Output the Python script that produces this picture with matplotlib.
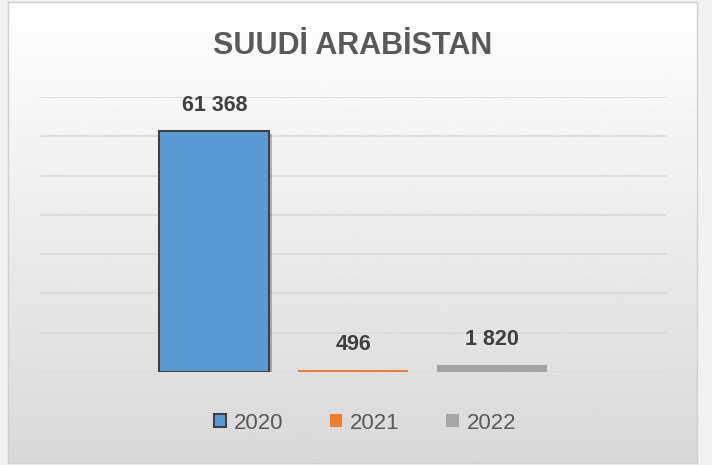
import numpy as np
import matplotlib
matplotlib.use('Agg')
import matplotlib.pyplot as plt
import matplotlib.patheffects as pe
from matplotlib.patches import Patch

title = 'SUUDİ ARABİSTAN'
years = ['2020', '2021', '2022']
values = [61368, 496, 1820]
colors = ['#5B9BD5', '#ED7D31', '#A5A5A5']

plt.rcParams['font.family'] = ['Liberation Sans', 'DejaVu Sans']

fig = plt.figure(figsize=(7.12, 4.65), dpi=100)
fig.patch.set_facecolor('#f2f2f2')

# panel with vertical gradient
bg = fig.add_axes([8/712, 2/465, 689/712, 461/465], zorder=0)
grad = np.linspace(1.0, 0.85, 256).reshape(-1, 1)
bg.imshow(grad, cmap='gray', vmin=0, vmax=1, aspect='auto', extent=[0, 1, 0, 1])
bg.set_xticks([])
bg.set_yticks([])
for s in bg.spines.values():
    s.set_color('#d0d0d0')
    s.set_linewidth(1)

ax = fig.add_axes([40/712, 93/465, 627/712, 275/465], zorder=1)
ax.patch.set_alpha(0)

x = np.arange(len(values))
bars = ax.bar(x, values, width=0.79, color=colors, zorder=3)
bars[0].set_edgecolor('#404040')
bars[0].set_linewidth(1.5)
bars[0].set_path_effects([pe.SimplePatchShadow(offset=(2, -2), shadow_rgbFace='#000000', alpha=0.25), pe.Normal()])

ax.set_ylim(0, 70000)
ax.set_xlim(-1.255, 3.259)
ax.set_yticks(np.arange(0, 70001, 10000))
ax.grid(axis='y', color='#d9d9d9', linewidth=1.2, zorder=0)
ax.tick_params(left=False, bottom=False, labelleft=False, labelbottom=False)
for s in ax.spines.values():
    s.set_visible(False)

for b, v in zip(bars, values):
    lbl = f'{v:,}'.replace(',', ' ')
    ax.annotate(lbl, (b.get_x() + b.get_width()/2, v), xytext=(0, 11),
                textcoords='offset points', ha='center', va='bottom',
                fontsize=15.5, fontweight='bold', color='#404040')

fig.text(353/712, 1 - 46/465, title, ha='center', va='center',
         fontsize=22, fontweight='bold', color='#595959')

handles = [Patch(facecolor=c, edgecolor='#404040' if i == 0 else c, linewidth=1.5 if i == 0 else 0)
           for i, c in enumerate(colors)]
fig.legend(handles, years, loc='center', bbox_to_anchor=(365/712, 1 - 423/465), ncol=3,
           frameon=False, fontsize=16, handlelength=0.55, handleheight=0.55,
           handletextpad=0.35, columnspacing=2.1, labelcolor='#595959')

fig.savefig('out.png', dpi=100, facecolor=fig.get_facecolor())
